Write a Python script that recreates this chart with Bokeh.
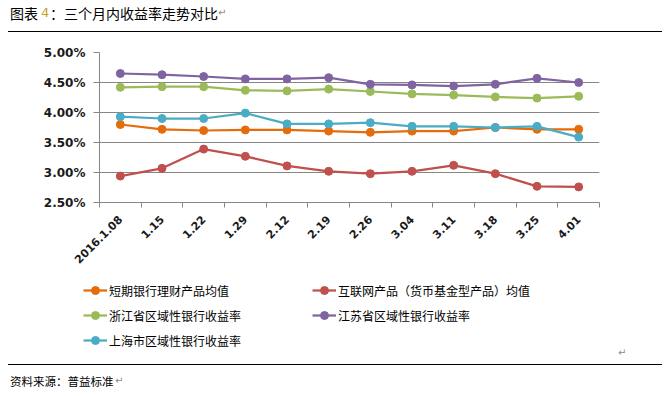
import math
from bokeh.plotting import figure
from bokeh.models import (Range1d, FixedTicker, PrintfTickFormatter, Legend, LegendItem, Div)
from bokeh.layouts import column
from bokeh.embed import file_html
from bokeh.resources import INLINE

# ---- data ----
dates = ["2016.1.08", "1.15", "1.22", "1.29", "2.12", "2.19",
         "2.26", "3.04", "3.11", "3.18", "3.25", "4.01"]
bank_short = [3.80, 3.72, 3.70, 3.71, 3.71, 3.69, 3.67, 3.69, 3.69, 3.75, 3.72, 3.72]
internet = [2.94, 3.07, 3.39, 3.27, 3.11, 3.02, 2.98, 3.02, 3.12, 2.98, 2.77, 2.76]
zhejiang = [4.42, 4.43, 4.43, 4.37, 4.36, 4.39, 4.35, 4.31, 4.29, 4.26, 4.24, 4.27]
jiangsu = [4.65, 4.63, 4.60, 4.56, 4.56, 4.58, 4.47, 4.46, 4.44, 4.47, 4.57, 4.50]
shanghai = [3.93, 3.90, 3.90, 3.99, 3.81, 3.81, 3.83, 3.77, 3.77, 3.75, 3.77, 3.59]
y_ticks = [2.5, 3.0, 3.5, 4.0, 4.5, 5.0]

series_names = ["短期银行理财产品均值", "互联网产品（货币基金型产品）均值",
                "浙江省区域性银行收益率", "江苏省区域性银行收益率", "上海市区域性银行收益率"]
series_values = [bank_short, internet, zhejiang, jiangsu, shanghai]
series_colors = ["#E46C0A", "#C0504D", "#9BBB59", "#8064A2", "#4BACC6"]

title_prefix = "图表"
title_num = "4"
title_text = "三个月内收益率走势对比"
source_text = "资料来源：普益标准"

CJK = "Noto Sans CJK SC"
NUM = "DejaVu Sans"
AXIS_COL = "#868686"

x_pos = [i + 0.5 for i in range(len(dates))]

# ---- main chart ----
p = figure(width=656, height=238, output_backend="svg", toolbar_location=None,
           x_range=Range1d(0, len(dates)), y_range=Range1d(y_ticks[0], y_ticks[-1]),
           min_border_left=91, min_border_right=65, min_border_top=20, min_border_bottom=68)
p.frame_align = False
p.margin = 0
p.outline_line_color = None
p.xgrid.visible = False
p.ygrid.grid_line_color = AXIS_COL
p.ygrid.grid_line_width = 1

p.yaxis.ticker = FixedTicker(ticks=y_ticks)
p.yaxis.formatter = PrintfTickFormatter(format="%.2f%%")
p.yaxis.axis_line_color = AXIS_COL
p.yaxis.major_tick_line_color = AXIS_COL
p.yaxis.major_tick_out = 6
p.yaxis.major_tick_in = 0
p.yaxis.minor_tick_line_color = None
p.yaxis.major_label_standoff = 8
p.yaxis.major_label_text_font = NUM
p.yaxis.major_label_text_font_style = "bold"
p.yaxis.major_label_text_font_size = "12px"
p.yaxis.major_label_text_color = "#1a1a1a"

p.xaxis.ticker = FixedTicker(ticks=x_pos, minor_ticks=list(range(len(dates) + 1)))
p.xaxis.major_label_overrides = {x: d for x, d in zip(x_pos, dates)}
p.xaxis.axis_line_color = AXIS_COL
p.xaxis.major_tick_line_color = None
p.xaxis.minor_tick_line_color = AXIS_COL
p.xaxis.minor_tick_out = 5
p.xaxis.minor_tick_in = 0
p.xaxis.major_label_orientation = math.pi / 4
p.xaxis.major_label_standoff = 9
p.xaxis.major_label_text_font = NUM
p.xaxis.major_label_text_font_style = "bold"
p.xaxis.major_label_text_font_size = "11px"
p.xaxis.major_label_text_color = "#1a1a1a"

for vals, col in zip(series_values, series_colors):
    p.line(x_pos, vals, line_color=col, line_width=2.25)
    p.scatter(x_pos, vals, size=8, fill_color=col, line_color=col)

# ---- legend strip (key only; the series sit outside this strip's visible range) ----
pl = figure(width=656, height=80, output_backend="svg", toolbar_location=None,
            x_range=Range1d(100, 101), y_range=Range1d(100, 101),
            x_axis_location=None, y_axis_location=None,
            min_border_left=0, min_border_right=0, min_border_top=0, min_border_bottom=0)
pl.frame_align = False
pl.margin = 0
pl.grid.visible = False
pl.outline_line_color = None
items = []
for name, vals, col in zip(series_names, series_values, series_colors):
    lr = pl.line(x_pos, vals, line_color=col, line_width=2.25)
    sr = pl.scatter(x_pos, vals, size=6, fill_color=col, line_color=col)
    items.append(LegendItem(label=name, renderers=[lr, sr]))
legend = Legend(items=items, location=(75, 0), orientation="horizontal", ncols=2,
                border_line_color=None, background_fill_alpha=0,
                padding=0, margin=0, spacing=5, glyph_width=24, glyph_height=20,
                label_height=20, label_width=198, label_standoff=2,
                label_text_font=CJK, label_text_font_size="12px", label_text_color="#000000")
pl.add_layout(legend)

RET = ('<span style="position:absolute;left:%spx;top:%spx;font-family:\'DejaVu Sans\';'
       'font-size:10px;line-height:12px;color:#8c8c8c">↵</span>')

title_html = (
    '<div style="position:relative;width:656px;height:24px;font-family:\'Noto Sans CJK SC\';color:#000">'
    '<span style="position:absolute;left:2px;top:-3.5px;font-size:14px;line-height:16px;white-space:nowrap">%s</span>'
    '<span style="position:absolute;left:33px;top:-3.5px;font-size:13px;line-height:16px;font-family:\'DejaVu Sans\';color:#C9A227">%s</span>'
    '<span style="position:absolute;left:42px;top:-3.5px;font-size:14px;line-height:16px">：</span>'
    '<span style="position:absolute;left:56px;top:-3.5px;font-size:14px;line-height:16px;white-space:nowrap">%s</span>'
    % (title_prefix, title_num, title_text)
    + RET % (210, -1) +
    '<div style="position:absolute;left:0px;top:22.5px;width:654px;height:1.5px;background:#000"></div>'
    '</div>'
)
source_html = (
    '<div style="position:relative;width:656px;height:38px;font-family:\'Noto Sans CJK SC\';color:#000">'
    + RET % (610, -3) +
    '<div style="position:absolute;left:0px;top:13.5px;width:654px;height:1.5px;background:#000"></div>'
    '<span style="position:absolute;left:2px;top:24px;font-size:11.5px;line-height:14px;white-space:nowrap">%s</span>'
    % source_text
    + RET % (107, 25) +
    '</div>'
)

top_div = Div(text=title_html, width=656, height=24, margin=0)
bot_div = Div(text=source_html, width=656, height=38, margin=0)

layout = column(top_div, p, pl, bot_div, spacing=0, margin=(8, 0, 0, 8))
open("out.html", "w").write(file_html(layout, INLINE))
